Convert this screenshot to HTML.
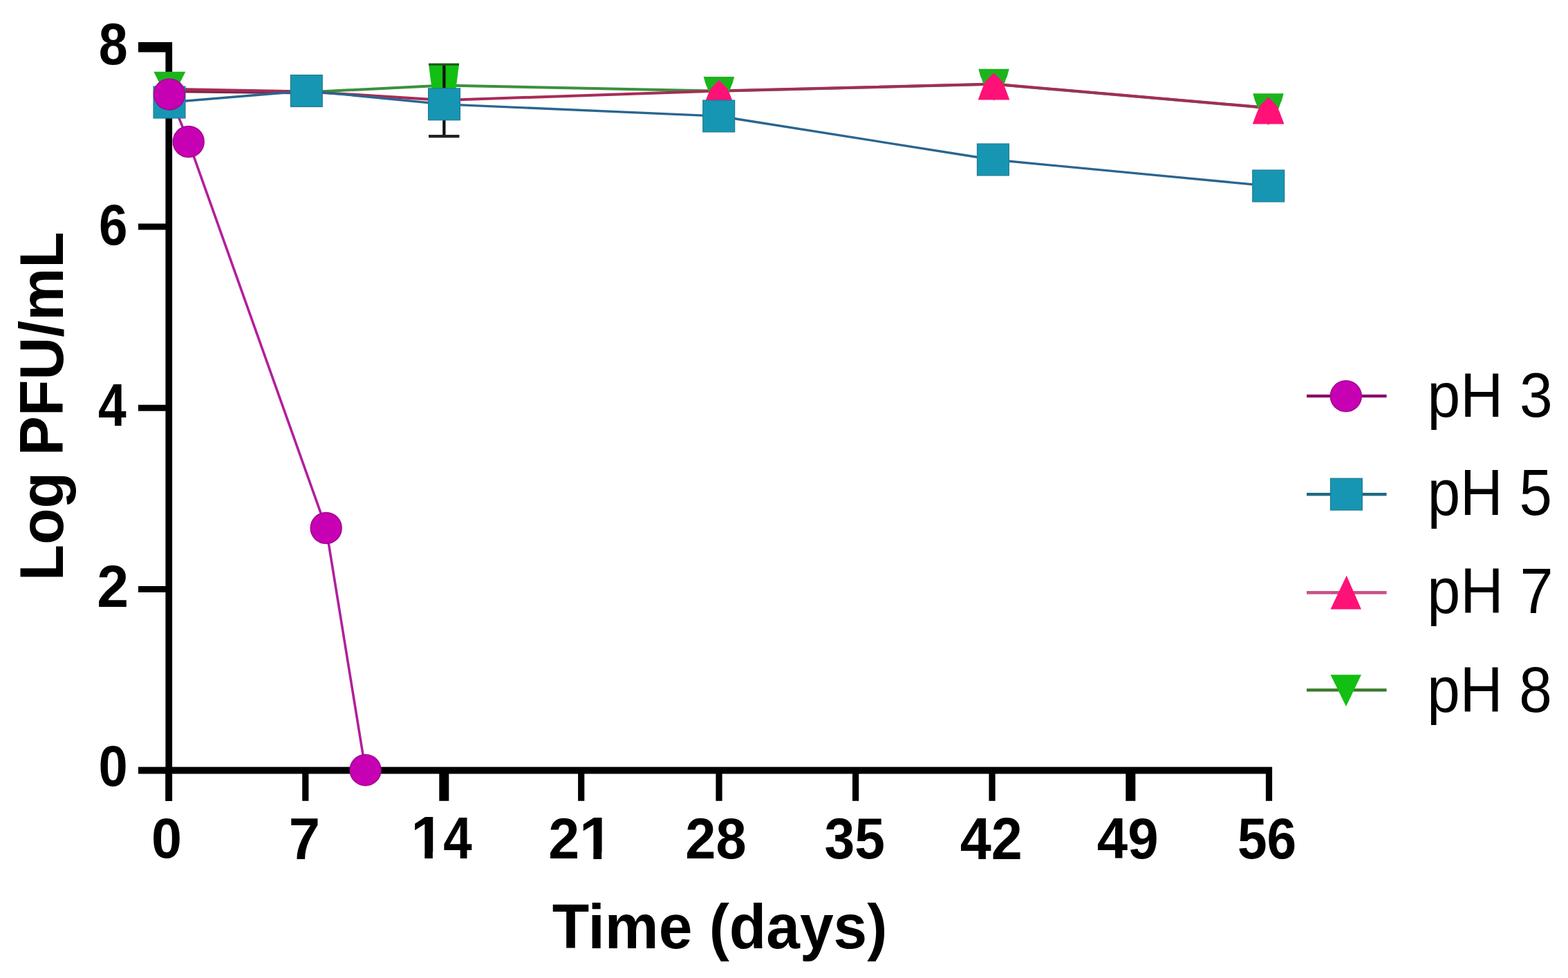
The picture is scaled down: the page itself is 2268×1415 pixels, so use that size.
<!DOCTYPE html>
<html><head><meta charset="utf-8"><title>Log PFU/mL vs Time</title>
<style>
html,body{margin:0;padding:0;background:#fff;}
svg{display:block;}
</style></head>
<body>
<svg width="2268" height="1415" viewBox="0 0 2268 1415">
<defs><clipPath id="cx14a"><rect x="572.3" y="1142" width="80" height="90.6"/><rect x="611.3" y="1230" width="11.0" height="14"/></clipPath><clipPath id="cx21b"><rect x="830.7" y="1142" width="80" height="90.6"/><rect x="869.7" y="1230" width="11.0" height="14"/></clipPath></defs>
<rect width="2268" height="1415" fill="#fff"/>
<g fill="#000">
<rect x="239.4" y="61" width="9.7" height="1098"/>
<rect x="200" y="1109.6" width="1640" height="10"/>
<rect x="200" y="61" width="49" height="14.5"/>
<rect x="200" y="323.5" width="49" height="9"/>
<rect x="200" y="585.7" width="49" height="9"/>
<rect x="200" y="848.0" width="49" height="9"/>
<rect x="239.4" y="1110" width="9.2" height="48.8"/>
<rect x="437.2" y="1110" width="9.2" height="48.8"/>
<rect x="635.3" y="1110" width="14" height="48.8"/>
<rect x="836.1" y="1110" width="9.2" height="48.8"/>
<rect x="1035.4" y="1110" width="9.2" height="48.8"/>
<rect x="1233.0" y="1110" width="9.2" height="48.8"/>
<rect x="1430.4" y="1110" width="9.2" height="48.8"/>
<rect x="1628.3" y="1110" width="14" height="48.8"/>
<rect x="1830.9" y="1110" width="9.2" height="48.8"/>
</g>
<g transform="matrix(0.92000,0,0,1.04828,16.700,-5.634)"><text x="182.5" y="94.5" text-anchor="end" font-family="Liberation Sans, Arial, sans-serif" font-weight="bold" font-size="82">8</text></g>
<g transform="matrix(0.91000,0,0,1.01207,18.500,-4.997)"><text x="182.5" y="354.5" text-anchor="end" font-family="Liberation Sans, Arial, sans-serif" font-weight="bold" font-size="82">6</text></g>
<g transform="matrix(0.89318,0,0,1.05357,19.741,-33.354)"><text x="182.5" y="616.5" text-anchor="end" font-family="Liberation Sans, Arial, sans-serif" font-weight="bold" font-size="82">4</text></g>
<g transform="matrix(1.00513,0,0,1.04737,2.682,-41.489)"><text x="182.5" y="878" text-anchor="end" font-family="Liberation Sans, Arial, sans-serif" font-weight="bold" font-size="82">2</text></g>
<g transform="matrix(0.92564,0,0,1.01034,15.910,-12.793)"><text x="182.5" y="1138.5" text-anchor="end" font-family="Liberation Sans, Arial, sans-serif" font-weight="bold" font-size="82">0</text></g>
<g transform="matrix(0.96579,0,0,1.00345,7.229,-4.886)"><text x="242.0" y="1242" text-anchor="middle" font-family="Liberation Sans, Arial, sans-serif" font-weight="bold" font-size="82">0</text></g>
<g transform="matrix(0.99211,0,0,1.05000,4.124,-61.300)"><text x="439.8" y="1242" text-anchor="middle" font-family="Liberation Sans, Arial, sans-serif" font-weight="bold" font-size="82">7</text></g>
<g transform="matrix(1.05200,0,0,1.06964,-28.796,-86.196)"><text x="592.3" y="1242" clip-path="url(#cx14a)" font-family="Liberation Sans, Arial, sans-serif" font-weight="bold" font-size="82">1</text></g>
<g transform="matrix(0.90909,0,0,1.03571,48.264,-44.357)"><text x="652.3" y="1242" font-family="Liberation Sans, Arial, sans-serif" font-weight="bold" font-size="82">4</text></g>
<g transform="matrix(0.98462,0,0,1.01404,14.615,-17.132)"><text x="790.7" y="1242" font-family="Liberation Sans, Arial, sans-serif" font-weight="bold" font-size="82">2</text></g>
<g transform="matrix(1.08000,0,0,1.05179,-80.980,-63.718)"><text x="850.7" y="1242" clip-path="url(#cx21b)" font-family="Liberation Sans, Arial, sans-serif" font-weight="bold" font-size="82">1</text></g>
<g transform="matrix(0.96744,0,0,1.02069,31.195,-25.417)"><text x="1038.0" y="1242" text-anchor="middle" font-family="Liberation Sans, Arial, sans-serif" font-weight="bold" font-size="82">28</text></g>
<g transform="matrix(0.95862,0,0,1.02241,51.724,-27.860)"><text x="1235.6" y="1242" text-anchor="middle" font-family="Liberation Sans, Arial, sans-serif" font-weight="bold" font-size="82">35</text></g>
<g transform="matrix(0.98721,0,0,1.04035,19.166,-49.116)"><text x="1433.0" y="1242" text-anchor="middle" font-family="Liberation Sans, Arial, sans-serif" font-weight="bold" font-size="82">42</text></g>
<g transform="matrix(0.97471,0,0,1.02241,39.182,-27.860)"><text x="1633.3" y="1242" text-anchor="middle" font-family="Liberation Sans, Arial, sans-serif" font-weight="bold" font-size="82">49</text></g>
<g transform="matrix(0.93529,0,0,1.01897,117.688,-23.774)"><text x="1833.5" y="1242" text-anchor="middle" font-family="Liberation Sans, Arial, sans-serif" font-weight="bold" font-size="82">56</text></g>
<g transform="matrix(0.97796,0,0,1.00952,24.956,-12.038)"><text x="1039" y="1370.6" text-anchor="middle" font-family="Liberation Sans, Arial, sans-serif" font-weight="bold" font-size="89.5">Time (days)</text></g>
<g transform="matrix(0.98929,0,0,0.95830,1.679,25.794)"><text transform="translate(90.6,586.4) rotate(-90)" x="0" y="0" text-anchor="middle" font-family="Liberation Sans, Arial, sans-serif" font-weight="bold" font-size="89.5">Log PFU/mL</text></g>
<polyline points="245.3,129.5 442.0,133.5 642.0,123.5 1040.0,131.8 1437.5,121.7 1834.7,156.2" fill="none" stroke="#3c903d" stroke-width="4" stroke-linejoin="round"/>
<polyline points="245.0,132.3 442.0,134.6" fill="none" stroke="#7c2842" stroke-width="3.6" stroke-linejoin="round"/>
<polyline points="245.0,128.8 442.0,132.5 642.0,145.0 1040.0,131.5 1437.0,121.5 1834.7,156.0" fill="none" stroke="#a62c58" stroke-width="4" stroke-linejoin="round"/>
<polyline points="245.0,148.0 443.3,131.5 642.5,150.8 1039.7,168.0 1436.4,231.0 1834.7,269.0" fill="none" stroke="#2a6590" stroke-width="3.3" stroke-linejoin="round"/>
<polyline points="245.0,136.5 272.7,205.0 471.7,764.0 528.6,1114.2" fill="none" stroke="#b21f9c" stroke-width="3.6" stroke-linejoin="round"/>
<polygon points="222.3,103.8 268.3,103.8 245.3,149.8" fill="#1cb41c"/>
<polygon points="420.8,109.5 465.2,109.5 462.5,119.5 460.3,124.5 458.7,129.5 455.5,136.5 443.0,155.5 430.5,136.5 427.3,129.5 425.7,124.5 423.5,119.5" fill="#1cb41c"/>
<polygon points="620,93 664,93 659.5,128 624.5,128" fill="#12bf12"/>
<polygon points="1017.7,111.0 1062.1,111.0 1059.4,121.0 1057.2,126.0 1055.6,131.0 1052.4,138.0 1039.9,157.0 1027.4,138.0 1024.2,131.0 1022.6,126.0 1020.4,121.0" fill="#1cb41c"/>
<polygon points="1415.3,99.8 1459.7,99.8 1457.0,109.8 1454.8,114.8 1453.2,119.8 1450.0,126.8 1437.5,145.8 1425.0,126.8 1421.8,119.8 1420.2,114.8 1418.0,109.8" fill="#1cb41c"/>
<polygon points="1812.3,135.3 1856.7,135.3 1854.0,145.3 1851.8,150.3 1850.2,155.3 1847.0,162.3 1834.5,181.3 1822.0,162.3 1818.8,155.3 1817.2,150.3 1815.0,145.3" fill="#1cb41c"/>
<polygon points="443.3,114.5 455.3,126.5 459.8,136.5 466.1,153.5 420.5,153.5 426.8,136.5 431.3,126.5" fill="#ff1177"/>
<polygon points="642.0,129.0 654.0,141.0 658.5,151.0 664.8,168.0 619.2,168.0 625.5,151.0 630.0,141.0" fill="#ff1177"/>
<polygon points="1040.0,116.0 1052.0,128.0 1056.5,138.0 1062.8,155.0 1017.2,155.0 1023.5,138.0 1028.0,128.0" fill="#ff1177"/>
<polygon points="1437.5,105.6 1449.5,117.6 1454.0,127.6 1460.3,144.6 1414.7,144.6 1421.0,127.6 1425.5,117.6" fill="#ff1177"/>
<polygon points="1834.6,140.5 1846.6,152.5 1851.1,162.5 1857.4,179.5 1811.8,179.5 1818.1,162.5 1822.6,152.5" fill="#ff1177"/>
<rect x="640.2" y="93" width="4.3" height="104" fill="#111"/>
<rect x="620" y="195" width="44.4" height="4.3" fill="#222"/>
<rect x="620" y="91.6" width="44" height="3.2" fill="#1b5a1b"/>
<rect x="222.1" y="125.1" width="45.8" height="45.8" fill="#1796b3" stroke="#217c96" stroke-width="1.3"/>
<rect x="420.4" y="108.6" width="45.8" height="45.8" fill="#1796b3" stroke="#217c96" stroke-width="1.3"/>
<rect x="619.6" y="127.9" width="45.8" height="45.8" fill="#1796b3" stroke="#217c96" stroke-width="1.3"/>
<rect x="1016.8" y="145.1" width="45.8" height="45.8" fill="#1796b3" stroke="#217c96" stroke-width="1.3"/>
<rect x="1413.5" y="208.1" width="45.8" height="45.8" fill="#1796b3" stroke="#217c96" stroke-width="1.3"/>
<rect x="1811.8" y="246.1" width="45.8" height="45.8" fill="#1796b3" stroke="#217c96" stroke-width="1.3"/>
<circle cx="245.0" cy="136.5" r="22.4" fill="#c800b4" stroke="#a0088f" stroke-width="1.6"/>
<circle cx="272.7" cy="205.0" r="22.4" fill="#c800b4" stroke="#a0088f" stroke-width="1.6"/>
<circle cx="471.7" cy="764.0" r="22.4" fill="#c800b4" stroke="#a0088f" stroke-width="1.6"/>
<circle cx="528.6" cy="1114.2" r="22.4" fill="#c800b4" stroke="#a0088f" stroke-width="1.6"/>
<rect x="1890" y="570.8" width="115.6" height="4.4" fill="#8a0a6a"/>
<circle cx="1946.8" cy="573.1" r="22.4" fill="#c800b4" stroke="#a0088f" stroke-width="1.6"/>
<rect x="1890" y="713.0" width="115.6" height="4.4" fill="#1e6a80"/>
<rect x="1924.5" y="692.2" width="45.8" height="45.8" fill="#1796b3" stroke="#217c96" stroke-width="1.3"/>
<rect x="1890" y="855.1" width="115.6" height="4.6" fill="#c8508a"/>
<polygon points="1924.5,881.5 1969,881.5 1947.7,832.8" fill="#ff1177"/>
<rect x="1890" y="996.1999999999999" width="115.6" height="4.4" fill="#3a7a2a"/>
<polygon points="1924.5,976.3 1969,976.3 1947,1022.1" fill="#12bf12"/>
<g transform="matrix(0.93261,0,0,0.99524,139.700,1.767)"><text x="2064" y="604" font-family="Liberation Sans, Arial, sans-serif" font-size="92">pH 3</text></g>
<g transform="matrix(0.92757,0,0,1.03133,150.135,-23.764)"><text x="2064" y="745.5" font-family="Liberation Sans, Arial, sans-serif" font-size="92">pH 5</text></g>
<g transform="matrix(0.93913,0,0,1.00000,125.800,-0.700)"><text x="2064" y="887.5" font-family="Liberation Sans, Arial, sans-serif" font-size="92">pH 7</text></g>
<g transform="matrix(0.92935,0,0,1.00952,146.050,-8.581)"><text x="2064" y="1029" font-family="Liberation Sans, Arial, sans-serif" font-size="92">pH 8</text></g>
</svg>
</body></html>
